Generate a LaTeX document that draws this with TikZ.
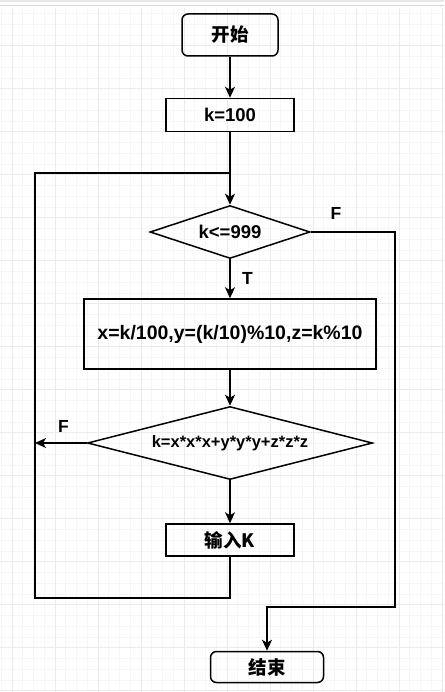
\documentclass[tikz,border=0pt]{standalone}
\usepackage{fontspec}
\setmainfont{Liberation Sans}
\newfontfamily\cjk{Noto Sans CJK SC}
\usetikzlibrary{shapes.geometric,arrows.meta}

\tikzset{
  flow/.style={draw, line width=1.5pt, inner sep=0pt, font=\bfseries\fontsize{18.5}{21}\selectfont},
  terminal/.style={flow, rounded corners=6pt},
  process/.style={flow, rectangle},
  decision/.style={flow, diamond},
  link/.style={line width=1.5pt, -{Stealth[length=11pt,width=10pt,inset=3pt]}},
  tag/.style={font=\bfseries\fontsize{17.5}{20}\selectfont}
}

\begin{document}
\begin{tikzpicture}[x=1pt, y=-1pt]
\useasboundingbox (0,0) rectangle (444,692);
% grid of the canvas
\foreach \gx in {1.25,12,...,444} \draw[gray!7, line width=0.6pt] (\gx,8) -- (\gx,692);
\foreach \gy in {13.5,24.25,...,692} \draw[gray!7, line width=0.6pt] (0,\gy) -- (444,\gy);
\foreach \gx in {12,55,...,444} \draw[gray!16, line width=0.7pt] (\gx,8) -- (\gx,692);
\foreach \gy in {45,88,...,692} \draw[gray!16, line width=0.7pt] (0,\gy) -- (444,\gy);
\fill[gray!18] (0,0) rectangle (444,2);
\draw[gray!30, line width=1pt] (0,6) -- (444,6);

\node[terminal, minimum width=96pt, minimum height=42pt] (start) at (230,35) {\cjk 开始};
\node[process, minimum width=128pt, minimum height=33pt] (init) at (230,115) {k=100};
\node[decision, aspect=3, minimum width=160pt, minimum height=53pt] (cond) at (230,232) {k<=999};
\node[process, minimum width=292pt, minimum height=70pt, font=\bfseries\fontsize{19.5}{22}\selectfont] (calc) at (230,334) {x=k/100,y=(k/10)\%10,z=k\%10};
\node[decision, aspect=3.9, minimum width=285pt, minimum height=73pt, font=\bfseries\fontsize{16.5}{20}\selectfont] (check) at (230,443) {k=x*x*x+y*y*y+z*z*z};
\node[process, minimum width=128pt, minimum height=32pt] (out) at (230,540) {\cjk 输入K};
\node[terminal, minimum width=113pt, minimum height=31pt] (end) at (267,667) {\cjk 结束};

\coordinate (fR) at (395,607);
\coordinate (fL) at (35,443);
\coordinate (loopB) at (35,598);
\coordinate (loopT) at (230,173);

\draw[link] (start) -- (init);
\draw[link] (init) -- (cond);
\draw[link] (cond) -- (calc) node[tag, midway, right=8pt] {T};
\draw[link] (cond.east) -| (fR) -| (end.north);
\node[tag] at (336,213) {F};
\draw[link] (calc) -- (check);
\draw[link] (check.west) -- (fL) node[tag, pos=0.45, above=6pt] {F};
\draw[link] (check) -- (out);
\draw[line width=1.5pt] (out.south) |- (loopB) |- (loopT);
\end{tikzpicture}
\end{document}
